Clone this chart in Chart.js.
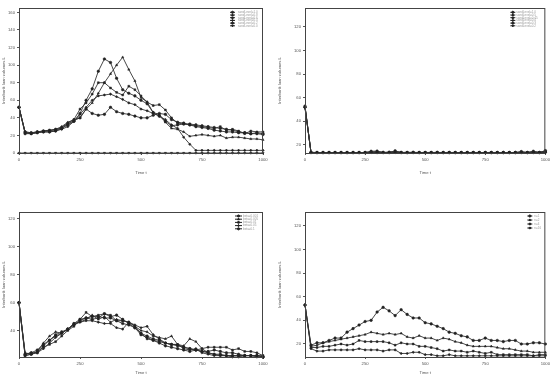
<!DOCTYPE html>
<html>
<head>
<meta charset="utf-8">
<script src="https://cdn.jsdelivr.net/npm/chart.js@4.4.1/dist/chart.umd.min.js"></script>
<style>
  html, body { margin: 0; padding: 0; background: #fff; }
  #wrap { position: relative; width: 552px; height: 376px; overflow: hidden; }
  .panel { position: absolute; width: 276px; height: 188px; }
</style>
</head>
<body>
<div id="wrap">
  <div class="panel" style="left:0;top:0"><canvas id="c1" width="276" height="188"></canvas></div>
  <div class="panel" style="left:276px;top:0"><canvas id="c2" width="276" height="188"></canvas></div>
  <div class="panel" style="left:0;top:188px"><canvas id="c3" width="276" height="188"></canvas></div>
  <div class="panel" style="left:276px;top:188px"><canvas id="c4" width="276" height="188"></canvas></div>
</div>
<script>
// time steps
const TIME = [0,25,50,75,100,125,150,175,200,225,250,275,300,325,350,375,400,425,450,475,
  500,525,550,575,600,625,650,675,700,725,750,775,800,825,850,875,900,925,950,975,1000];
const X_TICKS = [0, 250, 500, 750, 1000];

// top left panel
const TL_LABELS = ['sandLevel=1.0','sandLevel=0.8','sandLevel=0.6','sandLevel=0.4','sandLevel=0.2','sandLevel=0.0'];
const TL_S1 = [52,24,23,24,25,25,27,28,32,36, 45,60,73,93,107,103,85,72,68,65, 60,56,46,42,36,31,32,33,33,32, 31,30,29,28,27,26,24,23,22,23, 22];
const TL_S2 = [52,23,22,24,25,26,27,30,35,38, 40,50,57,68,80,90,100,109,95,82, 63,58,46,44,35,28,27,24,19,20, 21,20,19,20,17,18,18,17,16,16, 15];
const TL_S3 = [52,24,23,24,25,26,26,29,34,38, 50,57,67,80,80,74,69,66,76,72, 65,58,54,55,49,40,34,33,32,31, 30,29,28,30,26,27,25,22,25,24, 24];
const TL_S4 = [52,23,22,23,24,24,25,27,30,36, 44,52,60,65,66,67,64,61,57,55, 50,48,45,42,38,32,28,18,10,3, 3,3,3,3,3,3,3,3,3,3, 3];
const TL_S5 = [52,22,22,23,24,24,25,28,33,37, 40,50,45,43,44,52,47,45,44,42, 40,40,43,45,44,38,35,34,32,30, 29,28,26,25,24,24,23,23,22,22, 21];
const TL_S6 = [0,0,0,0,0,0,0,0,0,0, 0,0,0,0,0,0,0,0,0,0, 0,0,0,0,0,0,0,0,0,0, 0,0,0,0,0,0,0,0,0,0, 0];

// top right panel
const TR_LABELS = ['sandLevel=1.0','sandLevel=0.5','sandLevel=0.45','sandLevel=0.4','sandLevel=0.3','sandLevel=0.2'];
const TR_S1 = [52,13.5,13.4,13.4,13.4,13.4,13.4,13.4,13.4,13.4, 13.4,14.5,14.6,13.5,13.5,14.8,13.5,13.4,13.6,13.4, 13.4,13.4,13.5,13.4,13.4,13.4,13.4,13.4,13.4,13.4, 13.4,13.4,13.4,13.4,13.4,13.4,14.2,13.4,14.5,13.4, 15];
const TR_S2 = [52,13.4,13.4,13.4,13.4,13.4,13.4,13.4,13.4,13.4, 13.4,13.8,14.2,13.4,13.8,14.3,13.4,13.6,13.4,13.4, 13.4,13.5,13.4,13.4,13.5,13.4,13.4,13.4,13.4,13.4, 13.4,13.5,13.4,13.4,13.4,13.4,13.6,13.4,14.0,13.6, 14.2];
const TR_S3 = [52,13.6,13.4,13.4,13.4,13.4,13.4,13.4,13.4,13.4, 13.4,13.6,13.9,13.4,13.4,14.0,13.4,13.4,13.4,13.4, 13.5,13.4,13.4,13.4,13.4,13.4,13.4,13.4,13.5,13.4, 13.4,13.4,13.4,13.4,13.4,13.4,13.8,13.4,13.6,13.4, 14.6];
const TR_S4 = [53,13.4,13.4,13.4,13.4,13.4,13.4,13.4,13.4,13.4, 13.4,13.4,13.6,13.4,13.4,13.6,13.4,13.4,13.4,13.4, 13.4,13.4,13.4,13.4,13.4,13.4,13.4,13.4,13.4,13.4, 13.4,13.4,13.4,13.4,13.4,13.4,13.4,13.4,13.8,13.4, 14.0];
const TR_S5 = [52,13.4,13.4,13.4,13.4,13.4,13.4,13.4,13.4,13.4, 13.4,13.5,13.4,13.4,13.4,13.5,13.4,13.4,13.4,13.4, 13.4,13.4,13.4,13.4,13.4,13.4,13.4,13.4,13.4,13.4, 13.4,13.4,13.4,13.4,13.4,13.4,13.4,13.4,13.4,13.4, 13.6];
const TR_S6 = [51,13.4,13.4,13.4,13.4,13.4,13.4,13.4,13.4,13.4, 13.4,13.4,13.4,13.4,13.4,13.4,13.4,13.4,13.4,13.4, 13.4,13.4,13.4,13.4,13.4,13.4,13.4,13.4,13.4,13.4, 13.4,13.4,13.4,13.4,13.4,13.4,13.4,13.4,13.4,13.4, 13.4];

// bottom left panel
const BL_LABELS = ['beta=0.001','beta=0.005','beta=0.01','beta=0.05','beta=0.1'];
const BL_S1 = [60,23,24,26,30,33,36,38,41,44, 47,49,50,50,49,49,47,45,44,42, 38,36,34,33,31,30,29,28,27,26, 25,24,23,23,22,22,22,22,22,22, 21];
const BL_S2 = [60,24,23,25,31,36,39,38,41,45, 46,48,51,48,50,46,48,47,46,43, 40,39,36,35,34,36,30,29,34,32, 27,24,23,22,22,22,22,22,22,22, 22];
const BL_S3 = [60,22,23,25,28,30,32,36,40,43, 48,53,50,51,52,51,47,47,46,43, 38,34,33,32,31,30,30,28,27,26, 27,28,28,28,28,26,27,25,25,24, 22];
const BL_S4 = [60,23,24,24,27,31,35,38,41,44, 46,47,47,46,45,45,42,41,46,44, 42,43,37,34,31,30,30,27,26,27, 24,23,22,22,22,21,21,22,22,21, 21];
const BL_S5 = [60,22,23,24,29,33,37,39,41,45, 48,49,48,49,52,50,51,48,45,42, 37,35,33,31,29,28,27,26,25,26, 25,25,26,25,24,24,23,22,22,22, 21];

// bottom right panel
const BR_LABELS = ['n=1','n=2','n=4','n=16'];
const BR_S1 = [53,19,21,21,23,25,25,30,33,36, 39,40,47,51,48,44,49,45,42,42, 38,37,35,33,30,29,27,26,23,23, 25,23,23,22,23,23,20,20,21,21, 20];
const BR_S2 = [53,18,19,21,22,23,24,25,26,27, 28,30,29,28,29,28,29,26,25,27, 25,25,23,25,24,22,21,19,18,18, 18,18,17,16,16,15,14,14,13,13, 13];
const BR_S3 = [53,17,17,18,18,19,20,19,20,23, 22,22,22,22,21,19,21,20,20,18, 18,17,16,14,15,14,14,13,14,13, 12,13,11,11,11,11,11,11,10,11, 11];
const BR_S4 = [53,16,14,14,15,15,15,15,15,16, 15,15,15,14,15,15,12,12,13,13, 11,11,10,10,11,10,10,10,10,10, 10,10,10,10,10,10,10,10,10,10, 10];

const MARKERS = [
  { style: 'circle', rot: 0 },
  { style: 'triangle', rot: 0 },
  { style: 'rect', rot: 0 },
  { style: 'rectRot', rot: 0 },
  { style: 'circle', rot: 0 },
  { style: 'triangle', rot: 180 },
];

const FONT = "'Liberation Sans', Arial, sans-serif";
const TICK_COLOR = '#555';

// frame + inline legend drawn on the canvas
const framePlugin = {
  id: 'frame',
  afterDraw(chart) {
    const { ctx, chartArea: a } = chart;
    ctx.save();
    ctx.strokeStyle = '#444';
    ctx.lineWidth = 1;
    ctx.strokeRect(a.left + 0.5, a.top + 0.5, a.right - a.left - 1, a.bottom - a.top);
    const lg = chart.options.plugins.frame;
    ctx.font = `${lg.font}px ${FONT}`;
    ctx.textBaseline = 'middle';
    chart.data.datasets.forEach((ds, i) => {
      const y = a.top + lg.top + i * lg.row;
      ctx.strokeStyle = '#222';
      ctx.lineWidth = 1;
      ctx.beginPath();
      ctx.moveTo(a.right - lg.line[0], y);
      ctx.lineTo(a.right - lg.line[1], y);
      ctx.stroke();
      ctx.fillStyle = '#222';
      const mx = a.right - (lg.line[0] + lg.line[1]) / 2;
      if (Chart.helpers && Chart.helpers.drawPoint) {
        Chart.helpers.drawPoint(ctx, { pointStyle: ds.pointStyle, radius: 1.1, rotation: ds.pointRotation || 0, borderWidth: 0.5 }, mx, y);
      }
      ctx.fillStyle = '#9a9a9a';
      ctx.fillText(ds.label, a.right - lg.text, y);
    });
    ctx.restore();
  }
};

function makeDatasets(labels, series) {
  return series.map((vals, i) => ({
    label: labels[i],
    data: vals.map((v, k) => ({ x: TIME[k], y: v })),
    borderColor: '#333',
    backgroundColor: '#222',
    borderWidth: 0.9,
    pointStyle: MARKERS[i].style,
    pointRotation: MARKERS[i].rot,
    pointRadius: 1.3,
    pointBorderWidth: 0.5,
    pointBorderColor: '#222',
    pointBackgroundColor: '#222',
    tension: 0,
    clip: false,
  }));
}

function makeChart(id, cfg) {
  const small = { family: FONT, size: 4.2 };
  return new Chart(document.getElementById(id), {
    type: 'line',
    data: { datasets: makeDatasets(cfg.labels, cfg.series) },
    plugins: [framePlugin],
    options: {
      responsive: false,
      animation: false,
      devicePixelRatio: 1,
      layout: { padding: cfg.padding, autoPadding: false },
      plugins: {
        legend: { display: false },
        tooltip: { enabled: false },
        frame: cfg.legend,
      },
      scales: {
        x: {
          type: 'linear', min: 0, max: 1000,
          afterBuildTicks: s => { s.ticks = X_TICKS.map(v => ({ value: v })); },
          afterFit: s => { s.height = cfg.xh; },
          ticks: { color: TICK_COLOR, font: small, padding: 2, maxRotation: 0, callback: v => String(v) },
          grid: { display: true, drawOnChartArea: false, drawTicks: true, tickLength: 2, color: '#555' },
          border: { display: false },
          title: { display: true, text: 'Time t', color: TICK_COLOR, font: small, padding: 1 },
        },
        y: {
          min: cfg.ymin, max: cfg.ymax,
          afterBuildTicks: s => { s.ticks = cfg.yticks.map(v => ({ value: v })); },
          afterFit: s => { s.width = cfg.yw; },
          ticks: { color: TICK_COLOR, font: small, padding: 2, callback: v => String(v) },
          grid: { display: true, drawOnChartArea: false, drawTicks: true, tickLength: 2, color: '#555' },
          border: { display: false },
          title: { display: true, text: 'Interbank loan volumes L', color: TICK_COLOR, font: small, padding: 1 },
        },
      },
    },
  });
}

makeChart('c1', {
  labels: TL_LABELS,
  series: [TL_S1, TL_S2, TL_S3, TL_S4, TL_S5, TL_S6],
  ymin: 0, ymax: 165, yticks: [0, 20, 40, 60, 80, 100, 120, 140, 160],
  padding: { left: 0, top: 8, right: 13, bottom: 12 }, yw: 19, xh: 23,
  legend: { top: 4.3, row: 2.7, line: [33, 28], text: 25, font: 3 },
});

makeChart('c2', {
  labels: TR_LABELS,
  series: [TR_S1, TR_S2, TR_S3, TR_S4, TR_S5, TR_S6],
  ymin: 13, ymax: 136, yticks: [20, 40, 60, 80, 100, 120],
  padding: { left: 0, top: 8, right: 3, bottom: 12 }, yw: 29, xh: 23,
  legend: { top: 4.3, row: 2.7, line: [35, 30], text: 29, font: 3 },
});

makeChart('c3', {
  labels: BL_LABELS,
  series: [BL_S1, BL_S2, BL_S3, BL_S4, BL_S5],
  ymin: 21, ymax: 125, yticks: [40, 60, 80, 100, 120],
  padding: { left: 0, top: 24, right: 13, bottom: 0 }, yw: 19, xh: 19,
  legend: { top: 4, row: 3.2, line: [28, 21], text: 20, font: 3 },
});

makeChart('c4', {
  labels: BR_LABELS,
  series: [BR_S1, BR_S2, BR_S3, BR_S4],
  ymin: 9, ymax: 131.6, yticks: [20, 40, 60, 80, 100, 120],
  padding: { left: 0, top: 24, right: 3, bottom: 0 }, yw: 29, xh: 19,
  legend: { top: 4, row: 4, line: [18, 13], text: 11, font: 3 },
});
</script>
</body>
</html>
